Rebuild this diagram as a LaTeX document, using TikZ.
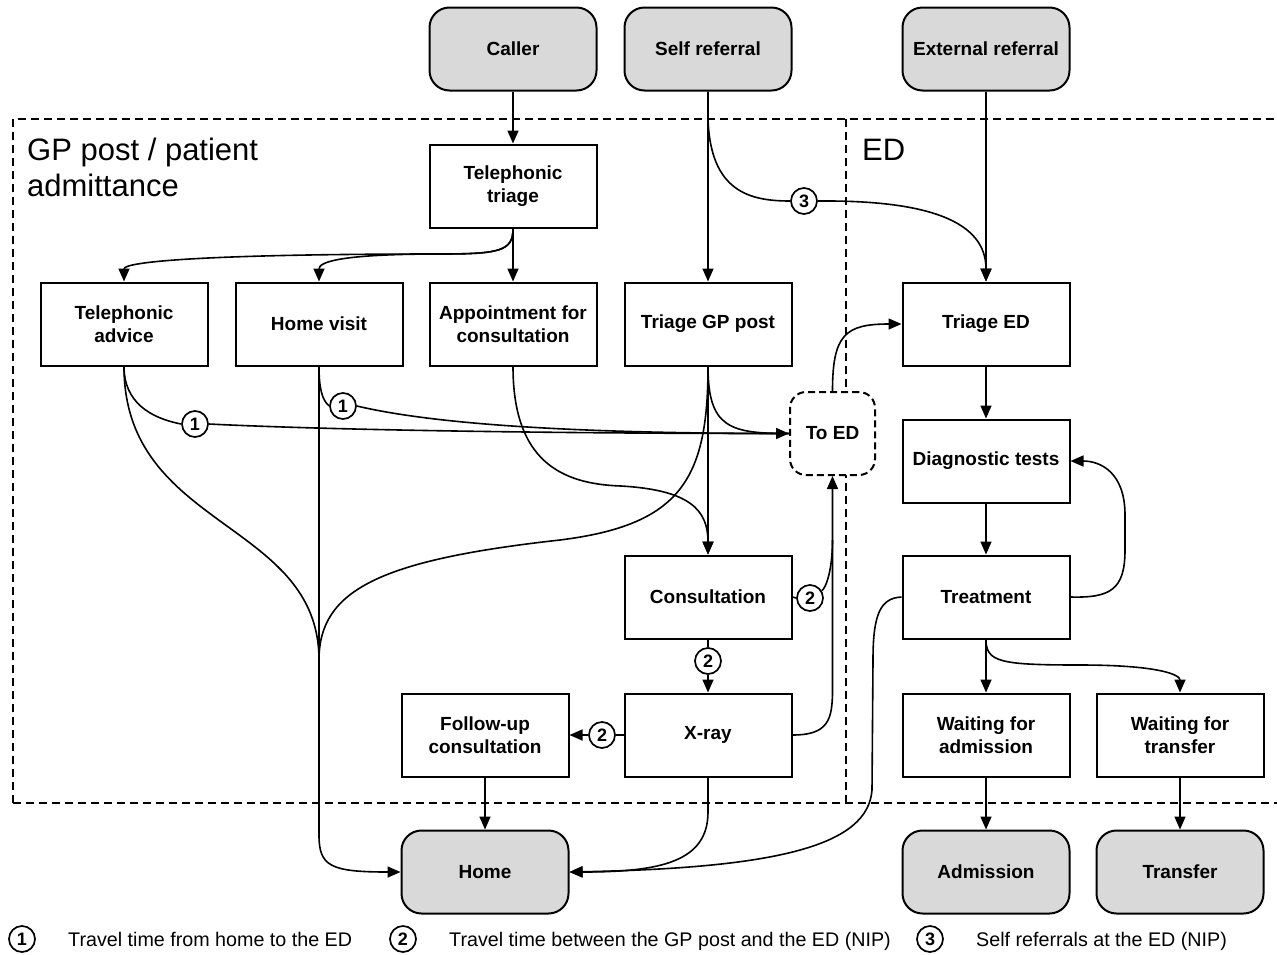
\documentclass[tikz,border=0pt]{standalone}
\usepackage{fontspec}
\setmainfont{Liberation Sans}
\usetikzlibrary{arrows.meta,shapes.geometric}
\definecolor{boxgray}{HTML}{D9D9D9}
\begin{document}
\begin{tikzpicture}[x=1pt,y=-1pt,
  pbox/.style={draw, fill=white, line width=2pt, minimum width=167pt, minimum height=83pt, inner sep=2pt, align=center, font=\bfseries\fontsize{19}{23.5}\selectfont},
  gbox/.style={pbox, rounded corners=20pt, fill=boxgray},
  dbox/.style={draw, fill=white, dashed, dash pattern=on 7pt off 4pt, line width=2pt, rounded corners=16pt, minimum width=85pt, minimum height=83pt, inner sep=1pt, align=center, font=\bfseries\fontsize{19}{23.5}\selectfont},
  num/.style={draw, circle, line width=1.7pt, minimum size=26pt, inner sep=0pt, fill=white, font=\bfseries\fontsize{18}{18}\selectfont},
  conn/.style={line width=1.6pt},
  arr/.style={conn, -{Triangle[length=13pt,width=11pt]}},
  region/.style={line width=1.5pt, dash pattern=on 8pt off 5pt},
  big/.style={font=\fontsize{31}{36}\selectfont, anchor=base west, inner sep=0pt},
  legtext/.style={font=\fontsize{19.7}{22}\selectfont, anchor=base west, inner sep=0pt}
]
\useasboundingbox (0,0) rectangle (1277,954);

% regions
\draw[region] (13,803) -- (13,119) -- (1277,119);
\draw[region] (13,803) -- (1277,803);
\draw[region] (846,119) -- (846,803);
\node[big] (lgp1) at (27,160) {GP post / patient};
\node[big] (lgp2) at (27,196.5) {admittance};
\node[big] (led) at (862,160) {ED};

% nodes
\node[gbox] (caller) at (513,49) {Caller};
\node[gbox] (selfref) at (708,49) {Self referral};
\node[gbox] (extref) at (986,49) {External referral};
\node[pbox] (teltriage) at (513,186) {Telephonic\\triage};
\node[pbox] (teladvice) at (124,324) {Telephonic\\advice};
\node[pbox] (homevisit) at (319,324) {Home visit};
\node[pbox] (appoint) at (513,324) {Appointment for\\consultation};
\node[pbox] (triagegp) at (708,324) {Triage GP post};
\node[pbox] (triageed) at (986,324) {Triage ED};
\node[dbox] (toed) at (832.5,433.5) {To ED};
\node[pbox] (diag) at (986,461) {Diagnostic tests};
\node[pbox] (consult) at (708,597) {Consultation};
\node[pbox] (treat) at (986,597) {Treatment};
\node[pbox] (followup) at (485,735) {Follow-up\\consultation};
\node[pbox] (xray) at (708,735) {X-ray};
\node[pbox] (waitadm) at (986,735) {Waiting for\\admission};
\node[pbox] (waittr) at (1180,735) {Waiting for\\transfer};
\node[gbox] (home) at (485,872) {Home};
\node[gbox] (adm) at (986,872) {Admission};
\node[gbox] (transfer) at (1180,872) {Transfer};

% numbered markers
\node[num] (c1a) at (195,424) {1};
\node[num] (c1b) at (343,406) {1};
\node[num] (c3) at (804,201) {3};
\node[num] (c2a) at (810,598) {2};
\node[num] (c2b) at (708,661) {2};
\node[num] (c2c) at (602,735) {2};

% top connectors
\draw[arr] (caller.south) -- (teltriage.north);
\draw[arr] (selfref.south) -- (triagegp.north);
\draw[arr] (extref.south) -- (triageed.north);
\draw[conn] (selfref.south) -- (708,118) .. controls (710,192) and (750,201) .. (c3.west);
\draw[arr] (c3.east) .. controls (930,200) and (986,222) .. (triageed.north);
\draw[arr] (teltriage.south) -- (appoint.north);
\draw[arr] (teltriage.south) .. controls (513,251) and (500,254) .. (440,254) .. controls (200,254) and (124,262) .. (teladvice.north);
\draw[arr] (teltriage.south) .. controls (513,251) and (500,254) .. (440,254) .. controls (340,254) and (319,262) .. (homevisit.north);

% to ED from the left
\draw[conn] (teladvice.south) .. controls (124,402) and (150,418) .. (c1a.west);
\draw[arr] (c1a.east) .. controls (350,431) and (600,433.5) .. (toed.west);
\draw[conn] (homevisit.south) .. controls (319,388) and (322,400) .. (c1b.west);
\draw[conn] (c1b.east) .. controls (450,428) and (620,433.5) .. (toed.west);
\draw[conn] (triagegp.south) .. controls (708,428) and (730,433.5) .. (toed.west);

% to Home from the left
\draw[conn] (teladvice.south) .. controls (124,530) and (319,520) .. (319,660);
\draw[conn] (triagegp.south) .. controls (708,480) and (680,525) .. (560,540) .. controls (380,560) and (319,590) .. (319,660);
\draw[arr] (homevisit.south) -- (319,835) .. controls (319,866) and (330,872) .. (home.west);

% consultations
\draw[arr] (appoint.south) .. controls (513,460) and (560,484) .. (621,486) .. controls (690,490) and (708,510) .. (consult.north);
\draw[arr] (triagegp.south) -- (consult.north);
\draw[conn] (consult.east) -- (c2a.west);
\draw[conn] (c2a) .. controls (826,588) and (832.5,570) .. (832.5,540);
\draw[arr] (xray.east) .. controls (828,735) and (832.5,720) .. (832.5,690) -- (toed.south);
\draw[conn] (consult.south) -- (c2b.north);
\draw[arr] (c2b.south) -- (xray.north);
\draw[conn] (xray.west) -- (c2c.east);
\draw[arr] (c2c.west) -- (followup.east);
\draw[arr] (followup.south) -- (home.north);
\draw[arr] (xray.south) -- (708,812) .. controls (708,862) and (660,872) .. (home.east);

% ED
\draw[arr] (toed.north) .. controls (832.5,335) and (845,324) .. (triageed.west);
\draw[arr] (triageed.south) -- (diag.north);
\draw[arr] (diag.south) -- (treat.north);
\draw[arr] (treat.east) .. controls (1110,598) and (1125,590) .. (1125,550) -- (1125,515) .. controls (1125,472) and (1100,461) .. (diag.east);
\draw[arr] (treat.west) .. controls (880,598) and (873,615) .. (873,660) -- (872,790) .. controls (868,845) and (780,868) .. (home.east);
\draw[arr] (treat.south) -- (waitadm.north);
\draw[arr] (treat.south) .. controls (986,662) and (1000,665) .. (1080,665) .. controls (1160,665) and (1180,675) .. (waittr.north);
\draw[arr] (waitadm.south) -- (adm.north);
\draw[arr] (waittr.south) -- (transfer.north);

% legend
\node[num] (k1) at (22,939) {1};
\node[legtext] (t1) at (68,946) {Travel time from home to the ED};
\node[num] (k2) at (403,939) {2};
\node[legtext] (t2) at (449,946) {Travel time between the GP post and the ED (NIP)};
\node[num] (k3) at (930,939) {3};
\node[legtext] (t3) at (976,946) {Self referrals at the ED (NIP)};
\end{tikzpicture}
\end{document}
